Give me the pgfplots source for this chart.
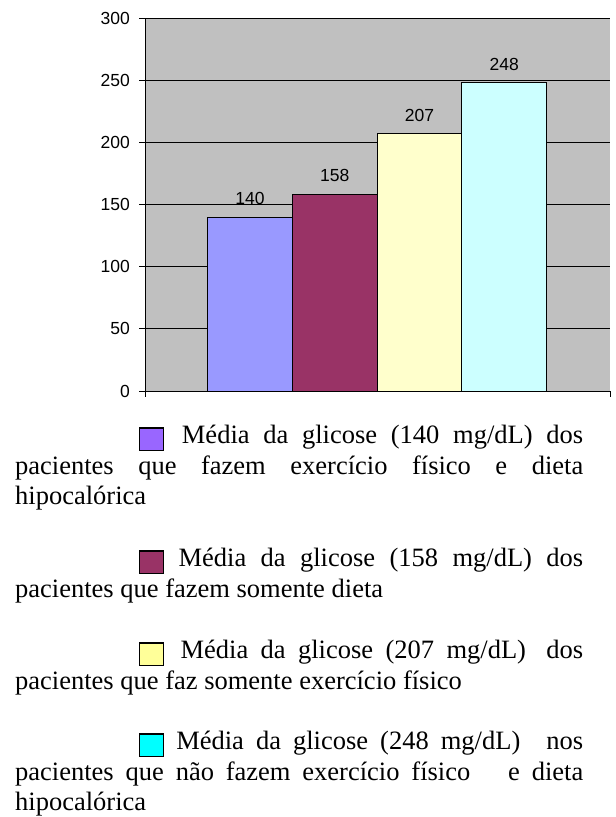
\documentclass[border=0pt]{standalone}
\usepackage{pgfplots}
\pgfplotsset{compat=1.18}
\usepackage{fontspec}
\setmainfont{Liberation Serif}
\newfontfamily\arialf{Liberation Sans}
\definecolor{plotbg}{HTML}{C0C0C0}
\definecolor{barA}{HTML}{9999FF}
\definecolor{barB}{HTML}{993366}
\definecolor{barC}{HTML}{FFFFCC}
\definecolor{barD}{HTML}{CCFFFF}
\definecolor{legA}{HTML}{9966FF}
\definecolor{legB}{HTML}{993366}
\definecolor{legC}{HTML}{FFFF99}
\definecolor{legD}{HTML}{00FFFF}
\newcommand\lbox[1]{\raisebox{-6bp}{\setlength\fboxsep{0pt}\setlength\fboxrule{1.3bp}\fcolorbox{black}{#1}{\rule{0pt}{21.4bp}\hspace{22.4bp}}}}
\begin{document}
\begin{tikzpicture}
\useasboundingbox (0,0) rectangle (616bp,817bp);
\begin{axis}[
  at={(145bp,426bp)}, anchor=south west,
  scale only axis, width=465bp, height=373bp,
  xmin=-1.239, xmax=4.248, ymin=0, ymax=300,
  axis x line=bottom, axis y line=left,
  axis line style={-, black, line width=0.9bp},
  axis background/.style={fill=plotbg},
  ytick={0,50,100,150,200,250,300},
  xtick={-1.239,4.248}, xticklabels={},
  ymajorgrids, grid style={black, line width=0.9bp},
  tick align=outside, major tick length=6bp,
  tick style={black, line width=0.9bp},
  /pgf/number format/assume math mode=true,
  yticklabel style={font=\arialf\fontsize{17.5bp}{20bp}\selectfont, inner sep=0pt, xshift=-9bp},
  ybar, bar width=1, bar shift=0pt,
  nodes near coords,
  every node near coord/.append style={font=\arialf\fontsize{17.5bp}{20bp}\selectfont, anchor=south, inner sep=0pt, yshift=12bp, black},
  clip=false,
]
\addplot[fill=barA, draw=black, line width=0.8bp] coordinates {(0,140)};
\addplot[fill=barB, draw=black, line width=0.8bp] coordinates {(1,158)};
\addplot[fill=barC, draw=black, line width=0.8bp] coordinates {(2,207)};
\addplot[fill=barD, draw=black, line width=0.8bp] coordinates {(3,248)};
\end{axis}
\tikzset{leg/.style={anchor=base west, inner sep=0pt, text width=568bp, align=justify, font=\fontsize{26.5bp}{30.5bp}\selectfont}}
\node[leg] at (15bp,373bp) {\hspace*{124bp}\lbox{legA}\hspace{4bp} Média da glicose (140 mg/dL) dos\linebreak pacientes que fazem exercício físico e dieta\linebreak hipocalórica};
\node[leg] at (15bp,250bp) {\hspace*{124bp}\lbox{legB} Média da glicose (158 mg/dL) dos\linebreak pacientes que fazem somente dieta};
\node[leg] at (15bp,158bp) {\hspace*{124bp}\lbox{legC}\hspace{4bp} Média da glicose (207 mg/dL)\hspace{8bp} dos\linebreak pacientes que faz somente exercício físico};
\node[leg] at (15bp,67bp) {\hspace*{124bp}\lbox{legD} Média da glicose (248 mg/dL)\hspace{14bp} nos\linebreak pacientes que não fazem exercício físico\hspace{26bp} e dieta\linebreak hipocalórica};
\end{tikzpicture}
\end{document}
